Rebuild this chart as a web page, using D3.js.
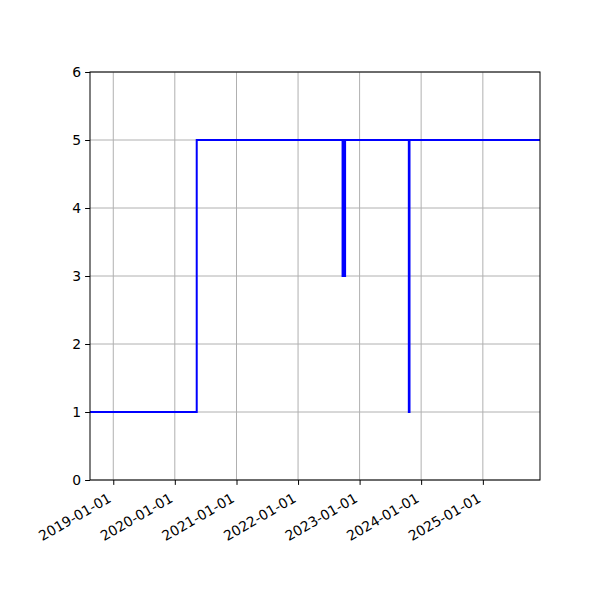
<!DOCTYPE html>
<html>
<head>
<meta charset="utf-8">
<script src="https://cdn.jsdelivr.net/npm/d3@7"></script>
<style>
  body { margin: 0; background: #fff; }
  text { font-family: "DejaVu Sans", sans-serif; }
</style>
</head>
<body>
<div id="chart"></div>
<script>
// Data: step series (value holds until the next date)
const dates = ["2018-08-16", "2020-05-10", "2022-09-22", "2022-09-29", "2022-09-30", "2022-10-07",
               "2023-10-20", "2023-10-24", "2025-12-06"];
const values = [1, 5, 3, 5, 3, 5, 1, 5, 5];
const xTicks = ["2019-01-01", "2020-01-01", "2021-01-01", "2022-01-01", "2023-01-01", "2024-01-01", "2025-01-01"];
const yTicks = [0, 1, 2, 3, 4, 5, 6];

const parse = d3.utcParse("%Y-%m-%d");
const points = dates.map((d, i) => ({ date: parse(d), value: values[i] }));

const width = 600;
const height = 600;
const margin = { top: 72, right: 60, bottom: 120, left: 90 };
const innerW = width - margin.left - margin.right;
const innerH = height - margin.top - margin.bottom;

const svg = d3.select("#chart")
    .append("svg")
    .attr("width", width)
    .attr("height", height);

const g = svg.append("g")
    .attr("transform", `translate(${margin.left},${margin.top})`);

// Scales
const x = d3.scaleUtc()
    .domain([parse(dates[0]), parse(dates[dates.length - 1])])
    .range([0, innerW]);

const y = d3.scaleLinear()
    .domain([0, 6])
    .range([innerH, 0]);

// Grid
g.append("g")
    .selectAll("line")
    .data(xTicks.map(parse))
    .join("line")
    .attr("x1", d => x(d)).attr("x2", d => x(d))
    .attr("y1", 0).attr("y2", innerH)
    .attr("stroke", "#b0b0b0").attr("stroke-width", 1);

g.append("g")
    .selectAll("line")
    .data(yTicks)
    .join("line")
    .attr("x1", 0).attr("x2", innerW)
    .attr("y1", d => y(d)).attr("y2", d => y(d))
    .attr("stroke", "#b0b0b0").attr("stroke-width", 1);

// Step line
const line = d3.line()
    .x(d => x(d.date))
    .y(d => y(d.value))
    .curve(d3.curveStepAfter);

g.append("path")
    .datum(points)
    .attr("d", line)
    .attr("fill", "none")
    .attr("stroke", "#0000ff")
    .attr("stroke-width", 2);

// Axes
const xAxis = g.append("g")
    .attr("transform", `translate(0,${innerH})`)
    .call(d3.axisBottom(x)
        .tickValues(xTicks.map(parse))
        .tickFormat(d3.utcFormat("%Y-%m-%d"))
        .tickSize(4.9));

// rotated labels, right end sits under the tick (like autofmt_xdate)
xAxis.selectAll("text")
    .attr("text-anchor", "end")
    .attr("x", 0).attr("y", 0).attr("dy", 0)
    .attr("transform", "translate(-1.5,21) rotate(-30)");

const yAxis = g.append("g")
    .call(d3.axisLeft(y)
        .tickValues(yTicks)
        .tickFormat(d3.format("d"))
        .tickSize(4.9)
        .tickPadding(4));

[xAxis, yAxis].forEach(a => {
    a.selectAll("text").attr("font-size", 13.9).attr("fill", "#000")
        .attr("font-family", "DejaVu Sans, sans-serif");
    a.selectAll(".tick line").attr("stroke", "#000").attr("stroke-width", 1);
    a.select(".domain").remove();
});

// Frame
g.append("rect")
    .attr("x", 0).attr("y", 0)
    .attr("width", innerW).attr("height", innerH)
    .attr("fill", "none")
    .attr("stroke", "#000")
    .attr("stroke-width", 1);
</script>
</body>
</html>
